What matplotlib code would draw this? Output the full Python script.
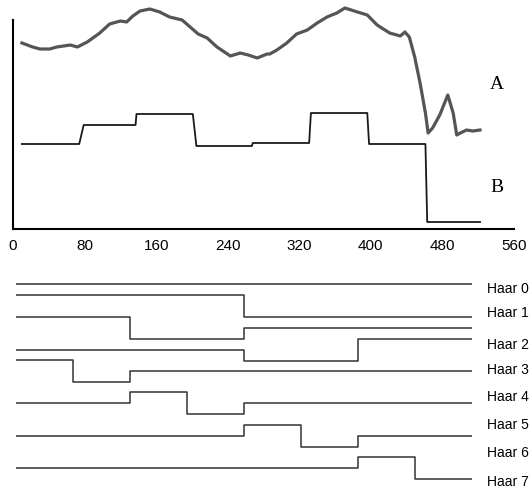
import matplotlib.pyplot as plt
import numpy as np

# signal A (top curve)
a_x = [10, 22, 30, 41, 49, 64, 72, 83, 97, 108, 120, 127, 134, 142, 153, 164, 175, 189,
       198, 207, 217, 228, 243, 254, 263, 273, 284, 287, 295, 306, 317, 329, 340, 351,
       362, 371, 385, 396, 407, 421, 433, 438, 443, 449, 455, 461, 464, 469, 477, 486,
       492, 496, 500, 507, 514, 522]
a_y = [186, 182, 180, 180, 182, 184, 182, 187, 196, 205, 208, 207, 213, 218, 220, 217, 212, 209,
       202, 195, 191, 182, 173, 176, 174, 171, 175, 175, 179, 186, 195, 199, 206, 212,
       216, 221, 217, 214, 204, 196, 193, 197, 192, 172, 146, 116, 96, 101, 114, 134,
       116, 94, 96, 99, 98, 99]

# signal B (Haar approximation)
b_x = [10, 74, 79, 137, 138, 201, 205, 267, 268, 331, 333, 396, 398, 461, 463, 522]
b_y = [85, 85, 104, 104, 115, 115, 83, 83, 86, 86, 116, 116, 85, 85, 7, 7]

xticks = [0, 80, 160, 240, 320, 400, 480, 560]

# Haar basis on 8 intervals
haar_names = ["Haar 0", "Haar 1", "Haar 2", "Haar 3", "Haar 4", "Haar 5", "Haar 6", "Haar 7"]
haar_vals = [
    [1, 1, 1, 1, 1, 1, 1, 1],
    [1, 1, 1, 1, -1, -1, -1, -1],
    [1, 1, -1, -1, 0, 0, 0, 0],
    [0, 0, 0, 0, -1, -1, 1, 1],
    [1, -1, 0, 0, 0, 0, 0, 0],
    [0, 0, 1, -1, 0, 0, 0, 0],
    [0, 0, 0, 0, 1, -1, 0, 0],
    [0, 0, 0, 0, 0, 0, 1, -1],
]
haar_base = [295, 306, 328, 350, 371, 403, 436, 468]
haar_label_y = [289, 313, 345, 370, 397, 425, 453, 482]
amp = 10.7

W, H = 532, 488
fig = plt.figure(figsize=(W / 100, H / 100), dpi=100)

# top panel
ax = fig.add_axes([13 / W, 1 - 229 / H, 501 / W, 224 / H])
ax.plot(a_x, a_y, color='#555555', lw=2.3, solid_joinstyle='round')
ax.plot(b_x, b_y, color='#1a1a1a', lw=1.3)
ax.set_xlim(0, 560)
ax.set_ylim(0, 224)
for s in ['top', 'right']:
    ax.spines[s].set_visible(False)
ax.spines['left'].set_bounds(0, 209)
ax.spines['left'].set_linewidth(1.5)
ax.spines['bottom'].set_linewidth(1.5)
ax.set_yticks([])
ax.set_xticks(xticks)
ax.set_xticklabels([str(t) for t in xticks], fontfamily='Liberation Sans', fontsize=11)
ax.tick_params(axis='x', length=0, pad=7)
ax.set_xticks([560], minor=True)
ax.tick_params(axis='x', which='minor', direction='in', length=5, width=1.3)
ax.text(541, 144, "A", fontfamily='Liberation Serif', fontsize=14, ha='center', va='center', clip_on=False)
ax.text(541, 41, "B", fontfamily='Liberation Serif', fontsize=14, ha='center', va='center', clip_on=False)

# bottom panel
ax2 = fig.add_axes([16 / W, 0, 456 / W, 228 / H])
ax2.set_xlim(0, 8)
ax2.set_ylim(488, 260)
ax2.axis('off')
xs = np.arange(9)
for name, vals, base, ly in zip(haar_names, haar_vals, haar_base, haar_label_y):
    ys = [base - amp * v for v in vals + [vals[-1]]]
    ax2.plot(xs, ys, drawstyle='steps-post', color='#333333', lw=1.1)
    ax2.text(8.27, ly, name, fontfamily='Liberation Sans', fontsize=10, ha='left', va='center', clip_on=False)

fig.savefig('out.png', dpi=100)
